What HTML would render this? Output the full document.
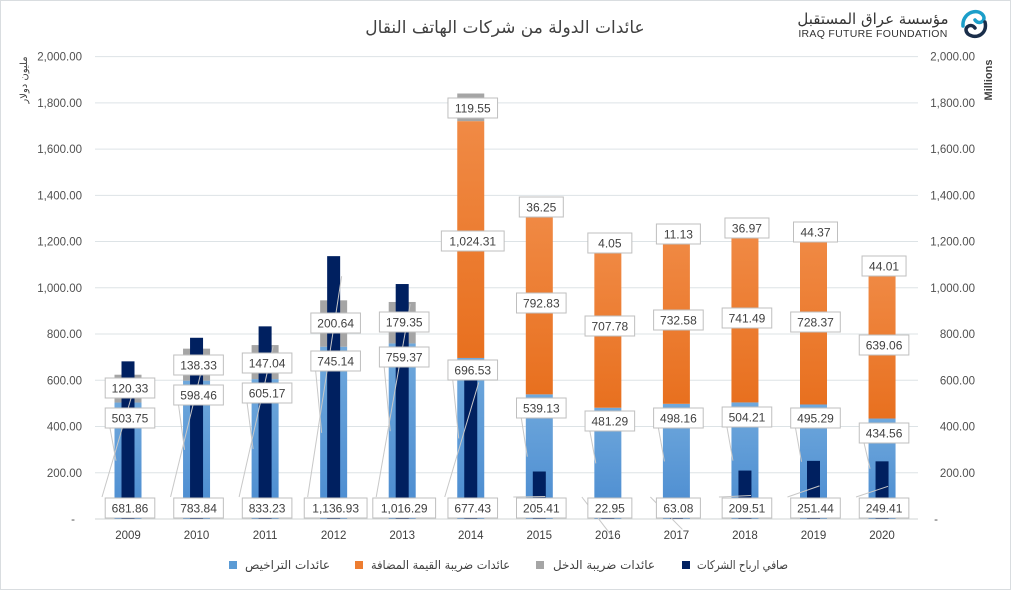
<!DOCTYPE html>
<html><head><meta charset="utf-8">
<style>
html,body{margin:0;padding:0;background:#fff;}
svg{display:block;font-family:"Liberation Sans","DejaVu Sans",sans-serif;}
</style></head>
<body>
<svg id="c" width="1011" height="590" viewBox="0 0 1011 590" xmlns="http://www.w3.org/2000/svg">
<defs>
<linearGradient id="gb" x1="0" y1="0" x2="0" y2="1"><stop offset="0" stop-color="#6fa8dc"/><stop offset="1" stop-color="#4a8bd0"/></linearGradient>
<linearGradient id="go" x1="0" y1="0" x2="0" y2="1"><stop offset="0" stop-color="#f08a45"/><stop offset="1" stop-color="#e8701f"/></linearGradient>
</defs>
<rect x="0.5" y="0.5" width="1010" height="589" fill="#fff" stroke="#d9dde0"/>
<text x="505" y="33" text-anchor="middle" font-size="17" fill="#404040" font-family="'DejaVu Sans',sans-serif">عائدات الدولة من شركات الهاتف النقال</text>
<text x="873" y="24" text-anchor="middle" font-size="15" fill="#333" font-family="'DejaVu Sans',sans-serif">مؤسسة عراق المستقبل</text>
<text x="873" y="37" text-anchor="middle" font-size="10.5" fill="#333" letter-spacing="0.3">IRAQ FUTURE FOUNDATION</text>
<g fill="none" stroke-width="3.5" stroke-linecap="round">
<path d="M963 26 C962 14 975 8 982 14 C988 20 979 26 975 20" stroke="#1b9ec9"/>
<path d="M985 22 C988 34 976 40 968 34 C962 28 971 22 975 28" stroke="#1a2e4a"/>
</g>
<text transform="translate(27,80) rotate(-90)" text-anchor="middle" font-size="10" fill="#404040" font-family="'DejaVu Sans',sans-serif">مليون دولار</text>
<text transform="translate(992,80) rotate(-90)" text-anchor="middle" font-size="11" font-weight="bold" fill="#404040">Millions</text>
<g id="grid"></g>
<g id="bars"></g>
<g id="labels"></g>
<g font-size="12" fill="#404040" font-family="'DejaVu Sans',sans-serif">
<rect x="229" y="561" width="8" height="8" fill="#5b9bd5"/>
<text x="245" y="569" textLength="85" lengthAdjust="spacingAndGlyphs">عائدات التراخيص</text>
<rect x="355" y="561" width="8" height="8" fill="#ed7d31"/>
<text x="371" y="569" textLength="139" lengthAdjust="spacingAndGlyphs">عائدات ضريبة القيمة المضافة</text>
<rect x="536" y="561" width="8" height="8" fill="#a5a5a5"/>
<text x="553" y="569" textLength="102" lengthAdjust="spacingAndGlyphs">عائدات ضريبة الدخل</text>
<rect x="682" y="561" width="8" height="8" fill="#002060"/>
<text x="697" y="569" textLength="91" lengthAdjust="spacingAndGlyphs">صافي ارباح الشركات</text>
</g>
</svg>
<script>
var NS="http://www.w3.org/2000/svg";
function el(p,t,a,txt){var e=document.createElementNS(NS,t);for(var k in a)e.setAttribute(k,a[k]);if(txt!==undefined)e.textContent=txt;document.getElementById(p).appendChild(e);return e;}
function Y(v){return 519-v*0.2312;}
var ticks=["-","200.00","400.00","600.00","800.00","1,000.00","1,200.00","1,400.00","1,600.00","1,800.00","2,000.00"];
for(var i=0;i<=10;i++){var y=Y(i*200);
 el("grid","line",{x1:95,x2:918,y1:y,y2:y,stroke:i?"#dde3e6":"#d0d4d6","stroke-width":1});
 el("grid","text",{x:i?82:75,y:y+4,"text-anchor":"end","font-size":"11.5",fill:"#505050"},ticks[i]);
 el("grid","text",{x:i?975:938,y:y+4,"text-anchor":"end","font-size":"11.5",fill:"#505050"},ticks[i]);
}
var yrs=[2009,2010,2011,2012,2013,2014,2015,2016,2017,2018,2019,2020];
var lic=[503.75,598.46,605.17,745.14,759.37,696.53,539.13,481.29,498.16,504.21,495.29,434.56];
var vat=[0,0,0,0,0,1024.31,792.83,707.78,732.58,741.49,728.37,639.06];
var inc=[120.33,138.33,147.04,200.64,179.35,119.55,36.25,4.05,11.13,36.97,44.37,44.01];
var net=[681.86,783.84,833.23,1136.93,1016.29,677.43,205.41,22.95,63.08,209.51,251.44,249.41];
var licY=[418,395,393,361,357,370,408,421,418,417,418,433];
var incY=[388,365,363,323,322,108,207,243,234,228,232,266];
var vatY=[0,0,0,0,0,241,303,326,320,318,322,345];
function fmt(v){return v.toLocaleString("en-US",{minimumFractionDigits:2,maximumFractionDigits:2});}
for(var i=0;i<12;i++){
 var c=128+i*68.55, w=27, x=c-w/2;
 var b=0;
 el("bars","rect",{x:x,y:Y(lic[i]),width:w,height:lic[i]*0.2312,fill:"url(#gb)"});b=lic[i];
 if(vat[i]){el("bars","rect",{x:x,y:Y(b+vat[i]),width:w,height:vat[i]*0.2312,fill:"url(#go)"});b+=vat[i];}
 el("bars","rect",{x:x,y:Y(b+inc[i]),width:w,height:inc[i]*0.2312,fill:"#a5a5a5"});
 el("bars","rect",{x:c-6.5,y:Y(net[i]),width:13,height:net[i]*0.2312,fill:"#002060"});
 el("grid","text",{x:c,y:539,"text-anchor":"middle","font-size":"11.5",fill:"#404040"},String(yrs[i]));
 el("labels","line",{x1:c-26,y1:497,x2:c+(i<6?8:6),y2:i<6?Y(net[i])+20:Y(net[i])+25,stroke:"#c8c8c8","stroke-width":1});
 el("labels","line",{x1:c-18,y1:licY[i]+10,x2:c-12,y2:Y(lic[i]*0.5),stroke:"#c8c8c8","stroke-width":1});
 var L=[[fmt(net[i]),508],[fmt(lic[i]),licY[i]],[fmt(inc[i]),incY[i]]];
 if(vat[i])L.push([fmt(vat[i]),vatY[i]]);
 for(var j=0;j<L.length;j++){
  var t=L[j][0], cy=L[j][1], bw=Math.max(44,t.length*6.6+10);
  el("labels","rect",{x:c+2-bw/2,y:cy-10,width:bw,height:20,fill:"#fff",stroke:"#bfbfbf","stroke-width":1});
  el("labels","text",{x:c+2,y:cy+4.5,"text-anchor":"middle","font-size":"12",fill:"#404040"},t);
 }
}
</script>
</body></html>
